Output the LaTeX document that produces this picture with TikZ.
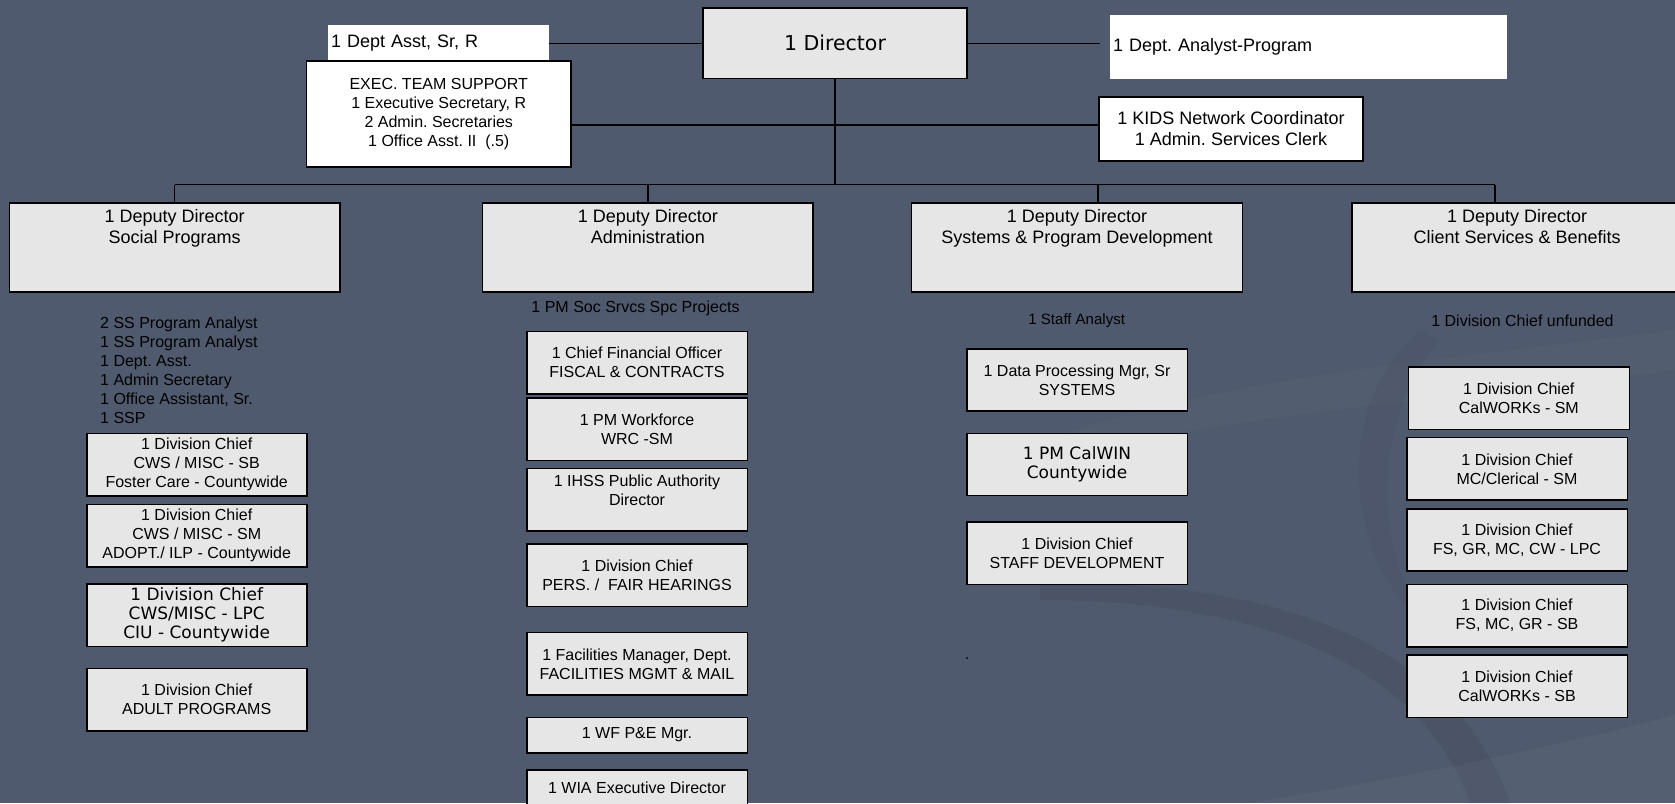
\documentclass[tikz,border=0pt]{standalone}
\usepackage{fontspec}
\setmainfont{Liberation Sans}
\newfontfamily\dvs{DejaVu Sans}
\definecolor{bg}{RGB}{80,90,110}
\definecolor{boxgray}{RGB}{230,230,230}
\frenchspacing
\tikzset{
  box/.style={draw=black, line width=1.6pt, fill=boxgray, minimum width=220.6pt,
    minimum height=62.4pt, inner sep=0pt, align=center, text=black,
    font=\fontsize{16}{19}\selectfont},
  dep/.style={box, minimum width=330.7pt, minimum height=89pt,
    font=\fontsize{18}{20.7}\selectfont},
  wbox/.style={fill=white, inner ysep=0pt, inner xsep=3pt, text=black},
  conn/.style={line width=1.5pt, draw=black},
  plain/.style={inner sep=0pt, text=black, font=\fontsize{16}{19}\selectfont},
}
\begin{document}
\begin{tikzpicture}[x=1pt,y=-1pt]
\useasboundingbox (0,0) rectangle (1675,803);
\clip (0,0) rectangle (1675,803);
\fill[bg] (0,0) rectangle (1675,803);
% background swooshes
\fill[black,opacity=0.06] (1040,600) .. controls (1250,600) and (1420,660) .. (1470,803)
   -- (1510,803) .. controls (1455,640) and (1260,575) .. (1040,585) -- cycle;
\fill[black,opacity=0.035] (1420,330) .. controls (1335,400) and (1335,560) .. (1440,640)
   .. controls (1370,560) and (1370,420) .. (1440,340) -- cycle;
\fill[white,opacity=0.03] (1250,803) .. controls (1450,770) and (1580,740) .. (1675,715)
   -- (1675,803) -- cycle;
\fill[white,opacity=0.02] (980,470) .. controls (1150,380) and (1450,360) .. (1675,330)
   -- (1675,370) .. controls (1450,400) and (1150,420) .. (980,480) -- cycle;

% top level
\node[box, minimum width=264pt, minimum height=70.5pt, font=\dvs\fontsize{20.5}{24}\selectfont] (dir) at (835,43.3) {1 Director};
\node[wbox, minimum height=36pt, text width=214.7pt, align=left, font=\fontsize{18}{21}\selectfont] (asst) at (438.4,43) {1 Dept Asst, Sr, R};
\node[box, fill=white, minimum width=264.5pt, minimum height=106.3pt] (exec) at (438.75,113.9)
  {EXEC. TEAM SUPPORT\\1 Executive Secretary, R\\2 Admin. Secretaries\\1 Office Asst. II\ \ (.5)};
\node[wbox, minimum height=63.7pt, text width=391pt, align=left, font=\fontsize{18}{21}\selectfont] (ana) at (1308.5,46.85) {1 Dept. Analyst-Program};
\node[box, fill=white, minimum width=264pt, minimum height=64.3pt, font=\fontsize{18}{21}\selectfont] (kids) at (1231,128.85)
  {1 KIDS Network Coordinator\\1 Admin. Services Clerk};

% deputies
\node[dep] (d1) at (174.65,247.2) {1 Deputy Director\\Social Programs\\~\\~};
\node[dep] (d2) at (647.8,247.2) {1 Deputy Director\\Administration\\~\\~};
\node[dep] (d3) at (1077,247.2) {1 Deputy Director\\Systems \& Program Development\\~\\~};
\node[dep] (d4) at (1517.2,247.2) {1 Deputy Director\\Client Services \& Benefits\\~\\~};

% column 1
\node[plain, anchor=west, align=left] (sp) at (100,370.7)
  {2 SS Program Analyst\\1 SS Program Analyst\\1 Dept. Asst.\\1 Admin Secretary\\1 Office Assistant, Sr.\\1 SSP};
\node[box, minimum width=220pt] (c1a) at (196.7,464.5) {1 Division Chief\\CWS / MISC - SB\\Foster Care - Countywide};
\node[box, minimum width=220pt] (c1b) at (196.7,535.5) {1 Division Chief\\CWS / MISC - SM\\ADOPT./ ILP - Countywide};
\node[box, minimum width=220pt, minimum height=62.7pt, font=\dvs\fontsize{17}{19}\selectfont] (c1c) at (196.7,615.3) {1 Division Chief\\CWS/MISC - LPC\\CIU - Countywide};
\node[box, minimum width=220pt] (c1d) at (196.7,699.5) {1 Division Chief\\ADULT PROGRAMS};

% column 2
\node[plain] (pm) at (635.5,308.3) {1 PM Soc Srvcs Spc Projects};
\node[box] (c2a) at (637,362.5) {1 Chief Financial Officer\\FISCAL \& CONTRACTS};
\node[box] (c2b) at (637,429.2) {1 PM Workforce\\WRC -SM};
\node[box] (c2c) at (637,499.85) {1 IHSS Public Authority\\Director\\~};
\node[box] (c2d) at (637,575.3) {1 Division Chief\\PERS. /\ \ FAIR HEARINGS};
\node[box] (c2e) at (637,663.8) {1 Facilities Manager, Dept.\\FACILITIES MGMT \& MAIL};
\node[box, minimum height=35.4pt] (c2f) at (637,735) {1 WF P\&E Mgr.};
\node[box, minimum height=53.6pt] (c2g) at (637,796.8) {1 WIA Executive Director\\~};

% column 3
\node[plain, font=\fontsize{15}{18}\selectfont] (sa) at (1076.7,321) {1 Staff Analyst};
\node[box, minimum height=62pt] (c3a) at (1077,380) {1 Data Processing Mgr, Sr\\SYSTEMS};
\node[box, minimum height=62pt, font=\dvs\fontsize{17}{19.3}\selectfont] (c3b) at (1077,464.3) {1 PM CalWIN\\Countywide};
\node[box, minimum height=62.3pt] (c3c) at (1077,553.2) {1 Division Chief\\STAFF DEVELOPMENT};
\node[plain] (dot) at (967,659) {.};

% column 4
\node[plain] (un) at (1522.5,321) {1 Division Chief unfunded};
\node[box, minimum width=221pt, minimum height=62.6pt] (c4a) at (1518.8,398) {1 Division Chief\\CalWORKs - SM};
\node[box] (c4b) at (1517,468.8) {1 Division Chief\\MC/Clerical - SM};
\node[box] (c4c) at (1517,540) {1 Division Chief\\FS, GR, MC, CW - LPC};
\node[box] (c4d) at (1517,615.5) {1 Division Chief\\FS, MC, GR - SB};
\node[box] (c4e) at (1517,686.2) {1 Division Chief\\CalWORKs - SB};

% connectors
\coordinate (anaEnd) at (1099.5,43.3);
\coordinate (busL) at (174.65,184.5);
\coordinate (busR) at (1495,184.5);
\coordinate (ey) at (0,125);
\draw[conn] (dir.west) -- (dir.west -| asst.east);
\draw[conn] (dir.east) -- (anaEnd);
\draw[conn] (exec.east |- ey) -- (kids.west |- ey);
\draw[conn] (dir.south) -- (dir.south |- busL);
\draw[conn] (busL) -- (busR);
\draw[conn] (busL) -- (d1.north);
\draw[conn] (d2.north |- busL) -- (d2.north);
\draw[conn] (busL -| kids.west) -- (d3.north -| kids.west);
\draw[conn] (busR) -- (busR |- d4.north);
\end{tikzpicture}
\end{document}
